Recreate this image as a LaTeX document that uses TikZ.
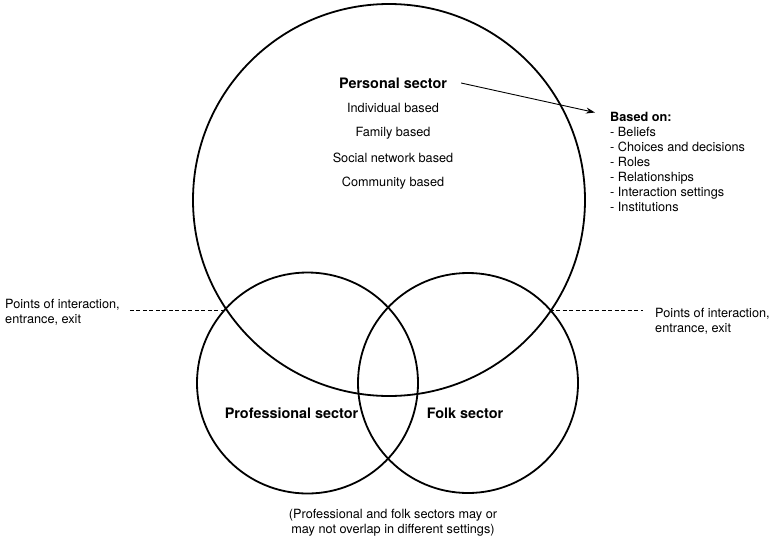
\documentclass[tikz,border=0pt]{standalone}
\usepackage{fontspec}
\setmainfont{TeX Gyre Heros}
\usetikzlibrary{arrows.meta}
\begin{document}
\begin{tikzpicture}[
    x=1pt, y=-1pt,
    sector/.style={
        circle,
        draw,
        line width=1.8pt,
        inner sep=0pt
    },
    body text/.style={
        font=\fontsize{12.7}{15}\selectfont,
        inner sep=0pt
    },
    title text/.style={
        font=\fontsize{14.4}{17}\selectfont\bfseries,
        inner sep=0pt
    },
    link/.style={
        dash pattern=on 4pt off 2.5pt,
        line width=0.8pt
    }
]
\useasboundingbox (0,0) rectangle (773,541);

% Circulos
\node[sector, minimum size=392pt] (pers) at (389,200) {};
\node[sector, minimum size=221pt] (prof) at (307.5,383) {};
\node[sector, minimum size=220pt] (folk) at (468,383) {};

% Sector personal
\node[title text] (perst) at (393,83) {Personal sector};
\foreach \t [count=\i] in {Individual based, Family based, Social network based, Community based}
    \node[body text] (p\i) at (393,83+25*\i) {\t};

% Lista
\node[body text, anchor=north west, align=left] (based) at (610,112.5) {
    \textbf{Based on:}\\
    - Beliefs\\
    - Choices and decisions\\
    - Roles\\
    - Relationships\\
    - Interaction settings\\
    - Institutions
};
\draw[-{Stealth[length=9pt,width=6pt]}, line width=0.9pt]
    ([xshift=14pt]perst.east) -- ([xshift=-15pt]based.north west);

% Otros sectores
\node[title text] (proft) at (291.5,413) {Professional sector};
\node[title text] (folkt) at (465,413) {Folk sector};
\node[body text, align=center] (note) at (393,522.5) {
    (Professional and folk sectors may or\\
    may not overlap in different settings)
};

% Puntos de interaccion
\coordinate (ixl) at (226.5,310.5);
\coordinate (ixr) at (549.5,310.5);
\node[body text, anchor=west, align=left] (lpoi) at (5,312.5) {
    Points of interaction,\\
    entrance, exit
};
\node[body text, anchor=west, align=left] (rpoi) at (655,321) {
    Points of interaction,\\
    entrance, exit
};
\draw[link] (ixl -| lpoi.east) ++(10,0) -- (ixl);
\draw[link, shorten >=12pt] (ixr) -- (ixr -| rpoi.west);

\end{tikzpicture}
\end{document}
